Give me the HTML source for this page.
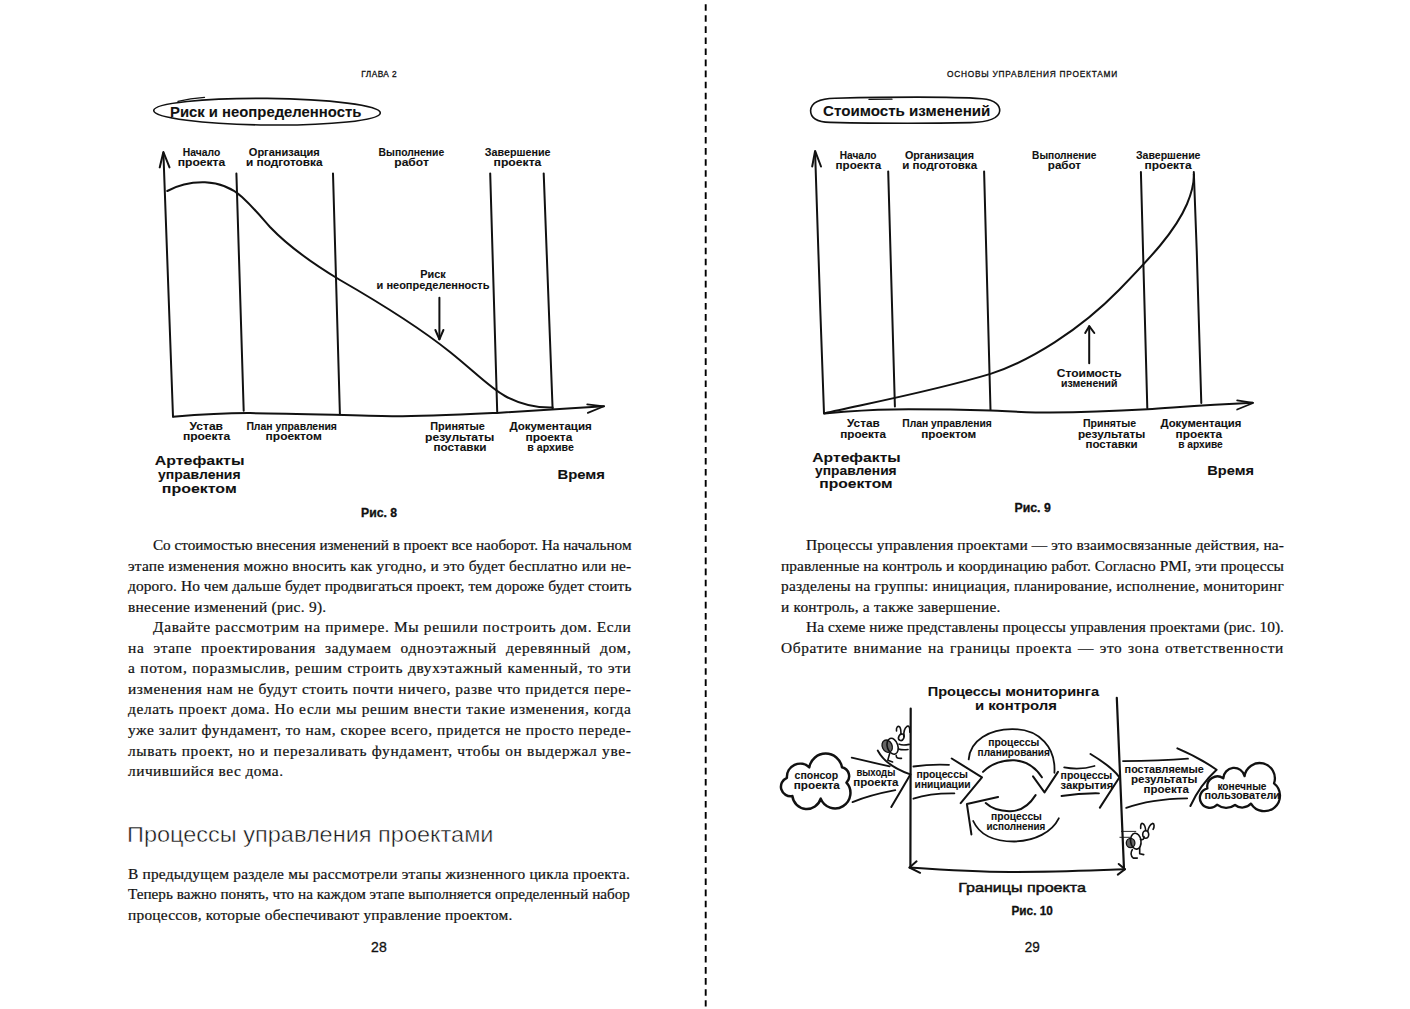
<!DOCTYPE html>
<html><head><meta charset="utf-8">
<style>
html,body{margin:0;padding:0;background:#fff;}
body{width:1410px;height:1009px;position:relative;overflow:hidden;}
.ln{position:absolute;font-family:"Liberation Serif",serif;font-size:14px;line-height:20px;color:#111;white-space:nowrap;transform-origin:0 0;-webkit-text-stroke:0.2px #111;}
.j{text-align:justify;text-align-last:justify;white-space:normal;}
svg{position:absolute;left:0;top:0;}
svg text{font-family:"Liberation Sans",sans-serif;fill:#111;}
</style></head><body>
<div class="ln" style="left:152.5px;top:536.10px;transform:scaleX(1.0838);letter-spacing:0.000px;word-spacing:0.000px">Со стоимостью внесения изменений в проект все наоборот. На начальном</div>
<div class="ln" style="left:127.5px;top:556.64px;transform:scaleX(1.1000);letter-spacing:0.190px;word-spacing:0.000px">этапе изменения можно вносить как угодно, и это будет бесплатно или не-</div>
<div class="ln" style="left:127.5px;top:577.18px;transform:scaleX(1.1000);letter-spacing:0.075px;word-spacing:0.000px">дорого. Но чем дальше будет продвигаться проект, тем дороже будет стоить</div>
<div class="ln" style="left:127.5px;top:597.72px;transform:scaleX(1.1000);letter-spacing:0.263px;word-spacing:0.000px">внесение изменений (рис. 9).</div>
<div class="ln" style="left:152.5px;top:618.26px;transform:scaleX(1.1000);letter-spacing:0.595px;word-spacing:0.000px">Давайте рассмотрим на примере. Мы решили построить дом. Если</div>
<div class="ln" style="left:127.5px;top:638.80px;transform:scaleX(1.1000);letter-spacing:0.602px;word-spacing:4.083px">на этапе проектирования задумаем одноэтажный деревянный дом,</div>
<div class="ln" style="left:127.5px;top:659.34px;transform:scaleX(1.1000);letter-spacing:0.594px;word-spacing:0.220px">а потом, поразмыслив, решим строить двухэтажный каменный, то эти</div>
<div class="ln" style="left:127.5px;top:679.88px;transform:scaleX(1.1000);letter-spacing:0.516px;word-spacing:0.000px">изменения нам не будут стоить почти ничего, разве что придется пере-</div>
<div class="ln" style="left:127.5px;top:700.42px;transform:scaleX(1.1000);letter-spacing:0.555px;word-spacing:0.000px">делать проект дома. Но если мы решим внести такие изменения, когда</div>
<div class="ln" style="left:127.5px;top:720.96px;transform:scaleX(1.1000);letter-spacing:0.487px;word-spacing:0.000px">уже залит фундамент, то нам, скорее всего, придется не просто переде-</div>
<div class="ln" style="left:127.5px;top:741.50px;transform:scaleX(1.1000);letter-spacing:0.576px;word-spacing:0.146px">лывать проект, но и перезаливать фундамент, чтобы он выдержал уве-</div>
<div class="ln" style="left:127.5px;top:762.04px;transform:scaleX(1.1000);letter-spacing:0.434px;word-spacing:0.000px">личившийся вес дома.</div>
<div class="ln" style="left:127.5px;top:864.50px;transform:scaleX(1.1000);letter-spacing:0.178px;word-spacing:0.000px">В предыдущем разделе мы рассмотрели этапы жизненного цикла проекта.</div>
<div class="ln" style="left:127.5px;top:885.10px;transform:scaleX(1.0862);letter-spacing:0.000px;word-spacing:0.000px">Теперь важно понять, что на каждом этапе выполняется определенный набор</div>
<div class="ln" style="left:127.5px;top:905.70px;transform:scaleX(1.1000);letter-spacing:0.198px;word-spacing:0.000px">процессов, которые обеспечивают управление проектом.</div>
<div class="ln" style="left:806.0px;top:536.00px;transform:scaleX(1.1000);letter-spacing:0.091px;word-spacing:0.000px">Процессы управления проектами — это взаимосвязанные действия, на-</div>
<div class="ln" style="left:781.0px;top:556.56px;transform:scaleX(1.1000);letter-spacing:0.036px;word-spacing:0.000px">правленные на контроль и координацию работ. Согласно PMI, эти процессы</div>
<div class="ln" style="left:781.0px;top:577.12px;transform:scaleX(1.1000);letter-spacing:0.180px;word-spacing:0.000px">разделены на группы: инициация, планирование, исполнение, мониторинг</div>
<div class="ln" style="left:781.0px;top:597.68px;transform:scaleX(1.1000);letter-spacing:0.197px;word-spacing:0.000px">и контроль, а также завершение.</div>
<div class="ln" style="left:806.0px;top:618.24px;transform:scaleX(1.1000);letter-spacing:0.032px;word-spacing:0.000px">На схеме ниже представлены процессы управления проектами (рис. 10).</div>
<div class="ln" style="left:781.0px;top:638.80px;transform:scaleX(1.1000);letter-spacing:0.594px;word-spacing:1.026px">Обратите внимание на границы проекта — это зона ответственности</div>
<svg width="1410" height="1009" viewBox="0 0 1410 1009">
<g fill="none" stroke="#111" stroke-linecap="round" stroke-linejoin="round">

<path d="M705.7,4.2 V1006.5" stroke="#000" stroke-width="1.9" stroke-dasharray="6.6 4.467" stroke-linecap="butt"/>
<!-- chart 1 -->
<ellipse cx="267" cy="111.7" rx="113.3" ry="13.3" stroke-width="1.6" transform="rotate(0.6 267 111.7)"/>
<path d="M178,101.3 Q190,98.3 204.5,97.3" stroke-width="1.3"/>
<path d="M163.4,153 C164.5,200 168,300 173,416.5" stroke-width="2"/>
<path d="M159.7,167.4 L163.4,152 L169.5,167.4" stroke-width="2"/>
<path d="M173,416.7 C200,414.5 225,413 250,413.1 C290,413.3 350,415.5 392,416.2 C420,416.4 460,414.5 500,412.7 C540,410.5 570,408.3 604,406.3" stroke-width="2"/>
<path d="M587.2,404.3 L604,406.3 L587.8,412.9" stroke-width="1.7"/>
<path d="M236.4,173.5 L243.7,410.8" stroke-width="2"/>
<path d="M333,173.5 L339.9,414.2" stroke-width="2"/>
<path d="M490.2,173.4 L497.2,411.5" stroke-width="2"/>
<path d="M543.7,173.4 L552.6,408.8" stroke-width="2"/>
<path d="M167.3,191 C180,184 195,182 205,182.3 C220,183 232,188 242,197 C255,209 262,218 270,227 C290,248 315,265 340,280 C380,303 420,328 450,352 C475,372 490,388 505,396 C520,404 535,408 552.6,407.5" stroke-width="2"/>
<path d="M439.4,297.8 L439.4,339.3" stroke-width="2"/>
<path d="M435.4,330 L439.4,339.3 L443.4,330" stroke-width="2"/>
<!-- chart 2 -->
<path d="M835,98.2 C900,96.8 960,97.2 982,98.7 C996,99.7 1000,106 999.7,111 C999,118 990,122 970,122.6 C920,123.8 870,123.3 830,122.4 C815,122 810.5,117 810.6,110.5 C811,103 818,98.6 835,98.2 Z" stroke-width="1.6"/>
<path d="M869,99.4 L892,99.2" stroke-width="1.3"/>
<path d="M815.1,152 C817,220 821,330 824,413.5" stroke-width="2"/>
<path d="M812.2,166.5 L815.1,150.9 L821,166.5" stroke-width="2"/>
<path d="M888.2,171.4 L894.9,406.5" stroke-width="2"/>
<path d="M984.1,171.4 L990.5,409.9" stroke-width="2"/>
<path d="M1140.9,172 L1147.3,408" stroke-width="2"/>
<path d="M1193.8,172 C1197,250 1200,350 1201.3,403" stroke-width="2"/>
<path d="M824.4,413.4 C850,411 870,409.6 893,409.4 C930,409.2 965,409.8 990.5,410.6 C1010,411.3 1030,412.5 1050,412.5 C1090,412.3 1120,410.8 1147.5,409.2 C1175,407.5 1200,405 1252.7,402.7" stroke-width="2"/>
<path d="M1237.1,400.4 L1253.1,402.9 L1237.1,409.6" stroke-width="1.6"/>
<path d="M824.9,413.2 C860,405 930,392 990.5,373.9 C1030,361 1080,330 1119,290 C1150,258 1175,232 1187,204 C1192,192 1194,180 1193.8,174.3" stroke-width="2"/>
<path d="M1089.2,363.3 L1089.2,326.2" stroke-width="2"/>
<path d="M1085.2,333 L1089.2,326.2 L1094.3,333" stroke-width="2"/>
<!-- chart 3 -->
<path d="M910.7,708.6 L910.4,867.5" stroke-width="2.2"/>
<path d="M1116.8,697.8 L1124,869.3" stroke-width="2.2"/>
<path d="M909.5,867.5 C960,871 1000,872 1014.1,871.9 C1060,872 1100,870 1125,869.3" stroke-width="2"/>
<path d="M916.6,861.3 L909.5,867.5 L920.1,872.8" stroke-width="2"/>
<path d="M1118.7,864 L1125,869.3 L1117.8,874.6" stroke-width="2"/>
<path d="M786.9,777.8 A13.3,13.3 0 0 1 809.3,767.3 A16.6,16.6 0 0 1 842.0,767.3 A9.2,9.2 0 0 1 846.5,782.7 A15.4,15.4 0 1 1 820.7,798.6 A14.5,14.5 0 0 1 792.4,796.1 A9.6,9.6 0 0 1 786.9,777.8 Z" stroke-width="2.5"/>
<path d="M1207.4,788.3 A10.1,10.1 0 0 1 1223.3,778.4 A10.8,10.8 0 0 1 1244.6,776.2 A15.2,15.2 0 1 1 1274.0,783.3 A15.6,15.6 0 1 1 1251.0,803.6 A11.7,11.7 0 0 1 1235.0,805.0 A15.1,15.1 0 0 1 1217.0,804.7 A9.9,9.9 0 1 1 1207.4,788.3 Z" stroke-width="2.3"/>
<path d="M851.7,757.7 Q870,762 889.7,766.4" stroke-width="1.8"/>
<path d="M852.5,802.1 Q870,795 895.3,790.2" stroke-width="1.8"/>
<path d="M877.8,750.6 Q886,766 910.4,774.4 L891.3,806.9" stroke-width="2"/>
<path d="M913.4,766.5 Q930,764 949,764.8" stroke-width="1.8"/>
<path d="M951.7,758.5 L982,777.3 L960.7,803.1" stroke-width="2"/>
<path d="M913.4,798.7 Q930,793 954.4,793.3" stroke-width="1.8"/>
<path d="M968.7,759.4 C970,740 990,729 1012.4,729.1 C1040,729 1056,748 1054.4,772.8" stroke-width="1.8"/>
<path d="M983,771.9 C992,763 1003,760 1014.2,760.3 C1027,761 1036,768 1041.9,777.3" stroke-width="2"/>
<path d="M1033,776.4 L1044.5,792.4 L1058,771.9" stroke-width="2"/>
<path d="M985.7,803.1 C992,809 1000,811.5 1010.6,811.2 C1022,811 1030,804 1035.6,795.1" stroke-width="2"/>
<path d="M973.2,821 C980,836 995,841.5 1014.2,841.5 C1035,841 1052,832 1058.8,818.3" stroke-width="1.8"/>
<path d="M998.1,796.9 L966.9,804 L971.4,834.4" stroke-width="2"/>
<path d="M1064.2,767.4 Q1080,770.3 1094.5,766" stroke-width="1.8"/>
<path d="M1090.5,754 Q1112,767 1119.5,777.3 Q1110,792 1099.9,807.6" stroke-width="2"/>
<path d="M1061.5,796 Q1080,793 1099,793.3" stroke-width="1.8"/>
<path d="M1123,761.1 Q1160,761 1188,758.7" stroke-width="1.8"/>
<path d="M1177.4,748.4 Q1200,758 1216.6,769.8 Q1200,785 1190.4,806" stroke-width="2"/>
<path d="M1126.2,807.9 Q1150,799 1187.2,798.3" stroke-width="1.8"/>
<!-- bug 1 -->
<ellipse cx="887.2" cy="746.2" rx="4.9" ry="6.4" fill="#666" stroke="#111" stroke-width="1.3" transform="rotate(-25 887.2 746.2)"/>
<g stroke-width="1.6">
<path d="M896.5,731 C896,727 898,725.5 899.7,726.9 C901,728.5 901,732 900.9,734.5"/>
<path d="M903.9,736.4 C903.5,731 904.5,728 907,726.3 C909,725.5 910,727 909.8,732.2"/>
<ellipse cx="901.3" cy="737.2" rx="2.6" ry="3.4" transform="rotate(25 901.3 737.2)"/>
<ellipse cx="892.6" cy="746.3" rx="5.3" ry="8.2" transform="rotate(-18 892.6 746.3)"/>
<path d="M899.1,744.1 C902,745.5 906,745 909.2,744.4"/>
<path d="M898.5,748.9 C901.5,750 905,749.8 908,749.5"/>
<path d="M889.6,753.6 L887.8,760.2 L892.6,762"/>
<path d="M896.2,755.4 C896.2,757.5 897,758.6 901.5,758.4"/>
</g>
<!-- bug 2 -->
<path d="M1121.4,831.4 L1135.8,831.4" stroke-width="0.9"/>
<path d="M1119.9,837.3 L1129.8,837.3" stroke-width="0.9"/>
<ellipse cx="1130.6" cy="843" rx="4.3" ry="4.6" fill="#666" stroke="#111" stroke-width="1.3"/>
<g stroke-width="1.6">
<path d="M1140.7,828.4 C1140.5,825 1141,823 1142.5,823.4 C1144.5,824 1145.5,828 1145.7,830.4"/>
<path d="M1147.7,831.4 C1148.5,827 1149.5,824.5 1152.6,823.4 C1154.5,823.5 1154.5,827 1153.1,829.4"/>
<ellipse cx="1145.7" cy="834.5" rx="3" ry="3.8"/>
<ellipse cx="1135.8" cy="841.2" rx="5.2" ry="8" transform="rotate(-8 1135.8 841.2)"/>
<path d="M1132.3,849.7 C1130.5,852 1130.5,856 1133.3,858.1 L1137.3,858.1"/>
<path d="M1139.7,847.5 L1139.7,853.7 L1143.7,854.6"/>
<path d="M1140.5,839.5 C1143,840 1144.5,839 1144,836.5"/>
</g>

</g>
<text x="170.0" y="116.7" font-size="14" font-weight="700" textLength="191.3" lengthAdjust="spacingAndGlyphs" stroke="#111" stroke-width="0.08">Риск и неопределенность</text>
<text x="182.8" y="155.8" font-size="10" font-weight="700" textLength="37.4" lengthAdjust="spacingAndGlyphs" stroke="#111" stroke-width="0.08">Начало</text>
<text x="177.8" y="166.3" font-size="10" font-weight="700" textLength="47.4" lengthAdjust="spacingAndGlyphs" stroke="#111" stroke-width="0.08">проекта</text>
<text x="248.8" y="155.8" font-size="10" font-weight="700" textLength="71.0" lengthAdjust="spacingAndGlyphs" stroke="#111" stroke-width="0.08">Организация</text>
<text x="246.0" y="166.3" font-size="10" font-weight="700" textLength="76.6" lengthAdjust="spacingAndGlyphs" stroke="#111" stroke-width="0.08">и подготовка</text>
<text x="378.6" y="155.9" font-size="10" font-weight="700" textLength="65.6" lengthAdjust="spacingAndGlyphs" stroke="#111" stroke-width="0.08">Выполнение</text>
<text x="394.3" y="166.3" font-size="10" font-weight="700" textLength="34.5" lengthAdjust="spacingAndGlyphs" stroke="#111" stroke-width="0.08">работ</text>
<text x="484.8" y="155.9" font-size="10" font-weight="700" textLength="65.8" lengthAdjust="spacingAndGlyphs" stroke="#111" stroke-width="0.08">Завершение</text>
<text x="493.6" y="166.3" font-size="10" font-weight="700" textLength="47.8" lengthAdjust="spacingAndGlyphs" stroke="#111" stroke-width="0.08">проекта</text>
<text x="420.2" y="277.9" font-size="10" font-weight="700" textLength="25.5" lengthAdjust="spacingAndGlyphs" stroke="#111" stroke-width="0.08">Риск</text>
<text x="376.6" y="288.5" font-size="10" font-weight="700" textLength="112.8" lengthAdjust="spacingAndGlyphs" stroke="#111" stroke-width="0.08">и неопределенность</text>
<text x="189.6" y="430.0" font-size="10" font-weight="700" textLength="33.4" lengthAdjust="spacingAndGlyphs" stroke="#111" stroke-width="0.08">Устав</text>
<text x="182.9" y="439.6" font-size="10" font-weight="700" textLength="47.3" lengthAdjust="spacingAndGlyphs" stroke="#111" stroke-width="0.08">проекта</text>
<text x="246.4" y="430.0" font-size="10" font-weight="700" textLength="90.5" lengthAdjust="spacingAndGlyphs" stroke="#111" stroke-width="0.08">План управления</text>
<text x="265.6" y="439.6" font-size="10" font-weight="700" textLength="56.2" lengthAdjust="spacingAndGlyphs" stroke="#111" stroke-width="0.08">проектом</text>
<text x="430.3" y="430.0" font-size="10" font-weight="700" textLength="54.6" lengthAdjust="spacingAndGlyphs" stroke="#111" stroke-width="0.08">Принятые</text>
<text x="425.1" y="440.5" font-size="10" font-weight="700" textLength="69.2" lengthAdjust="spacingAndGlyphs" stroke="#111" stroke-width="0.08">результаты</text>
<text x="433.4" y="451.0" font-size="10" font-weight="700" textLength="53.1" lengthAdjust="spacingAndGlyphs" stroke="#111" stroke-width="0.08">поставки</text>
<text x="509.4" y="430.0" font-size="10" font-weight="700" textLength="82.4" lengthAdjust="spacingAndGlyphs" stroke="#111" stroke-width="0.08">Документация</text>
<text x="525.5" y="440.5" font-size="10" font-weight="700" textLength="46.8" lengthAdjust="spacingAndGlyphs" stroke="#111" stroke-width="0.08">проекта</text>
<text x="527.3" y="451.0" font-size="10" font-weight="700" textLength="46.5" lengthAdjust="spacingAndGlyphs" stroke="#111" stroke-width="0.08">в архиве</text>
<text x="154.8" y="464.6" font-size="13" font-weight="700" textLength="89.7" lengthAdjust="spacingAndGlyphs" stroke="#111" stroke-width="0.08">Артефакты</text>
<text x="158.0" y="478.7" font-size="13" font-weight="700" textLength="82.6" lengthAdjust="spacingAndGlyphs" stroke="#111" stroke-width="0.08">управления</text>
<text x="161.8" y="492.7" font-size="13" font-weight="700" textLength="74.9" lengthAdjust="spacingAndGlyphs" stroke="#111" stroke-width="0.08">проектом</text>
<text x="557.4" y="478.7" font-size="13" font-weight="700" textLength="47.6" lengthAdjust="spacingAndGlyphs" stroke="#111" stroke-width="0.08">Время</text>
<text x="823.0" y="116.2" font-size="14" font-weight="700" textLength="167.4" lengthAdjust="spacingAndGlyphs" stroke="#111" stroke-width="0.08">Стоимость изменений</text>
<text x="839.8" y="158.7" font-size="10" font-weight="700" textLength="36.7" lengthAdjust="spacingAndGlyphs" stroke="#111" stroke-width="0.08">Начало</text>
<text x="835.6" y="168.8" font-size="10" font-weight="700" textLength="45.5" lengthAdjust="spacingAndGlyphs" stroke="#111" stroke-width="0.08">проекта</text>
<text x="904.9" y="158.7" font-size="10" font-weight="700" textLength="69.1" lengthAdjust="spacingAndGlyphs" stroke="#111" stroke-width="0.08">Организация</text>
<text x="902.2" y="168.8" font-size="10" font-weight="700" textLength="74.9" lengthAdjust="spacingAndGlyphs" stroke="#111" stroke-width="0.08">и подготовка</text>
<text x="1032.1" y="159.0" font-size="10" font-weight="700" textLength="64.2" lengthAdjust="spacingAndGlyphs" stroke="#111" stroke-width="0.08">Выполнение</text>
<text x="1047.8" y="169.0" font-size="10" font-weight="700" textLength="33.2" lengthAdjust="spacingAndGlyphs" stroke="#111" stroke-width="0.08">работ</text>
<text x="1136.0" y="159.0" font-size="10" font-weight="700" textLength="64.5" lengthAdjust="spacingAndGlyphs" stroke="#111" stroke-width="0.08">Завершение</text>
<text x="1144.6" y="169.0" font-size="10" font-weight="700" textLength="47.0" lengthAdjust="spacingAndGlyphs" stroke="#111" stroke-width="0.08">проекта</text>
<text x="1056.8" y="376.8" font-size="10" font-weight="700" textLength="64.9" lengthAdjust="spacingAndGlyphs" stroke="#111" stroke-width="0.08">Стоимость</text>
<text x="1061.0" y="386.9" font-size="10" font-weight="700" textLength="56.5" lengthAdjust="spacingAndGlyphs" stroke="#111" stroke-width="0.08">изменений</text>
<text x="847.0" y="427.4" font-size="10" font-weight="700" textLength="32.7" lengthAdjust="spacingAndGlyphs" stroke="#111" stroke-width="0.08">Устав</text>
<text x="840.2" y="437.5" font-size="10" font-weight="700" textLength="45.9" lengthAdjust="spacingAndGlyphs" stroke="#111" stroke-width="0.08">проекта</text>
<text x="902.3" y="427.4" font-size="10" font-weight="700" textLength="89.5" lengthAdjust="spacingAndGlyphs" stroke="#111" stroke-width="0.08">План управления</text>
<text x="921.2" y="437.5" font-size="10" font-weight="700" textLength="54.9" lengthAdjust="spacingAndGlyphs" stroke="#111" stroke-width="0.08">проектом</text>
<text x="1083.0" y="427.3" font-size="10" font-weight="700" textLength="53.0" lengthAdjust="spacingAndGlyphs" stroke="#111" stroke-width="0.08">Принятые</text>
<text x="1077.9" y="437.8" font-size="10" font-weight="700" textLength="67.4" lengthAdjust="spacingAndGlyphs" stroke="#111" stroke-width="0.08">результаты</text>
<text x="1085.5" y="448.4" font-size="10" font-weight="700" textLength="52.2" lengthAdjust="spacingAndGlyphs" stroke="#111" stroke-width="0.08">поставки</text>
<text x="1160.5" y="427.3" font-size="10" font-weight="700" textLength="80.8" lengthAdjust="spacingAndGlyphs" stroke="#111" stroke-width="0.08">Документация</text>
<text x="1175.6" y="437.8" font-size="10" font-weight="700" textLength="46.4" lengthAdjust="spacingAndGlyphs" stroke="#111" stroke-width="0.08">проекта</text>
<text x="1178.2" y="448.4" font-size="10" font-weight="700" textLength="44.6" lengthAdjust="spacingAndGlyphs" stroke="#111" stroke-width="0.08">в архиве</text>
<text x="812.3" y="461.7" font-size="13" font-weight="700" textLength="88.4" lengthAdjust="spacingAndGlyphs" stroke="#111" stroke-width="0.08">Артефакты</text>
<text x="815.0" y="475.0" font-size="13" font-weight="700" textLength="81.7" lengthAdjust="spacingAndGlyphs" stroke="#111" stroke-width="0.08">управления</text>
<text x="819.3" y="488.3" font-size="13" font-weight="700" textLength="73.4" lengthAdjust="spacingAndGlyphs" stroke="#111" stroke-width="0.08">проектом</text>
<text x="1207.3" y="475.0" font-size="13" font-weight="700" textLength="46.7" lengthAdjust="spacingAndGlyphs" stroke="#111" stroke-width="0.08">Время</text>
<text x="927.7" y="696.4" font-size="13" font-weight="700" textLength="171.3" lengthAdjust="spacingAndGlyphs" stroke="#111" stroke-width="0.08">Процессы мониторинга</text>
<text x="975.0" y="710.3" font-size="13" font-weight="700" textLength="82.0" lengthAdjust="spacingAndGlyphs" stroke="#111" stroke-width="0.08">и контроля</text>
<text x="794.6" y="779.1" font-size="10" font-weight="700" textLength="43.6" lengthAdjust="spacingAndGlyphs" stroke="#111" stroke-width="0.08">спонсор</text>
<text x="793.8" y="789.4" font-size="10" font-weight="700" textLength="46.0" lengthAdjust="spacingAndGlyphs" stroke="#111" stroke-width="0.08">проекта</text>
<text x="856.4" y="776.0" font-size="10" font-weight="700" textLength="38.9" lengthAdjust="spacingAndGlyphs" stroke="#111" stroke-width="0.08">выходы</text>
<text x="853.3" y="786.3" font-size="10" font-weight="700" textLength="45.2" lengthAdjust="spacingAndGlyphs" stroke="#111" stroke-width="0.08">проекта</text>
<text x="916.4" y="778.1" font-size="10" font-weight="700" textLength="51.4" lengthAdjust="spacingAndGlyphs" stroke="#111" stroke-width="0.08">процессы</text>
<text x="914.6" y="788.0" font-size="10" font-weight="700" textLength="55.9" lengthAdjust="spacingAndGlyphs" stroke="#111" stroke-width="0.08">инициации</text>
<text x="988.3" y="746.0" font-size="10" font-weight="700" textLength="50.9" lengthAdjust="spacingAndGlyphs" stroke="#111" stroke-width="0.08">процессы</text>
<text x="977.6" y="755.8" font-size="10" font-weight="700" textLength="72.3" lengthAdjust="spacingAndGlyphs" stroke="#111" stroke-width="0.08">планирования</text>
<text x="991.0" y="820.1" font-size="10" font-weight="700" textLength="50.9" lengthAdjust="spacingAndGlyphs" stroke="#111" stroke-width="0.08">процессы</text>
<text x="986.5" y="829.9" font-size="10" font-weight="700" textLength="58.9" lengthAdjust="spacingAndGlyphs" stroke="#111" stroke-width="0.08">исполнения</text>
<text x="1060.6" y="779.0" font-size="10" font-weight="700" textLength="51.7" lengthAdjust="spacingAndGlyphs" stroke="#111" stroke-width="0.08">процессы</text>
<text x="1060.6" y="788.8" font-size="10" font-weight="700" textLength="52.6" lengthAdjust="spacingAndGlyphs" stroke="#111" stroke-width="0.08">закрытия</text>
<text x="1124.6" y="772.6" font-size="10" font-weight="700" textLength="79.3" lengthAdjust="spacingAndGlyphs" stroke="#111" stroke-width="0.08">поставляемые</text>
<text x="1131.0" y="782.5" font-size="10" font-weight="700" textLength="66.5" lengthAdjust="spacingAndGlyphs" stroke="#111" stroke-width="0.08">результаты</text>
<text x="1143.6" y="792.8" font-size="10" font-weight="700" textLength="45.2" lengthAdjust="spacingAndGlyphs" stroke="#111" stroke-width="0.08">проекта</text>
<text x="1217.4" y="789.6" font-size="10" font-weight="700" textLength="49.1" lengthAdjust="spacingAndGlyphs" stroke="#111" stroke-width="0.08">конечные</text>
<text x="1204.4" y="799.1" font-size="10" font-weight="700" textLength="75.6" lengthAdjust="spacingAndGlyphs" stroke="#111" stroke-width="0.08">пользователи</text>
<text x="958.3" y="891.8" font-size="13.5" font-weight="400" textLength="127.6" lengthAdjust="spacingAndGlyphs" stroke="#111" stroke-width="0.5">Границы проекта</text>
<text x="361.0" y="516.6" font-size="12" font-weight="700" textLength="36.0" lengthAdjust="spacingAndGlyphs" stroke="#111" stroke-width="0.3">Рис. 8</text>
<text x="1014.5" y="511.8" font-size="12" font-weight="700" textLength="36.3" lengthAdjust="spacingAndGlyphs" stroke="#111" stroke-width="0.3">Рис. 9</text>
<text x="1011.5" y="915.4" font-size="12" font-weight="700" textLength="41.3" lengthAdjust="spacingAndGlyphs" stroke="#111" stroke-width="0.3">Рис. 10</text>
<text x="371.1" y="951.7" font-size="14" font-weight="400" textLength="15.6" lengthAdjust="spacingAndGlyphs" stroke="#111" stroke-width="0.3">28</text>
<text x="1024.8" y="951.7" font-size="14" font-weight="400" textLength="15.0" lengthAdjust="spacingAndGlyphs" stroke="#111" stroke-width="0.3">29</text>
<text x="361.3" y="77.2" font-size="8.3" font-weight="400" textLength="35.4" lengthAdjust="spacing" stroke="#111" stroke-width="0.3">ГЛАВА 2</text>
<text x="947.0" y="77.3" font-size="8.3" font-weight="400" textLength="170.2" lengthAdjust="spacing" stroke="#111" stroke-width="0.3">ОСНОВЫ УПРАВЛЕНИЯ ПРОЕКТАМИ</text>
<text x="127.0" y="841.6" font-size="21.3" font-weight="400" textLength="366.5" lengthAdjust="spacingAndGlyphs" stroke="#fff" stroke-width="0.45">Процессы управления проектами</text>
</svg>
</body></html>
